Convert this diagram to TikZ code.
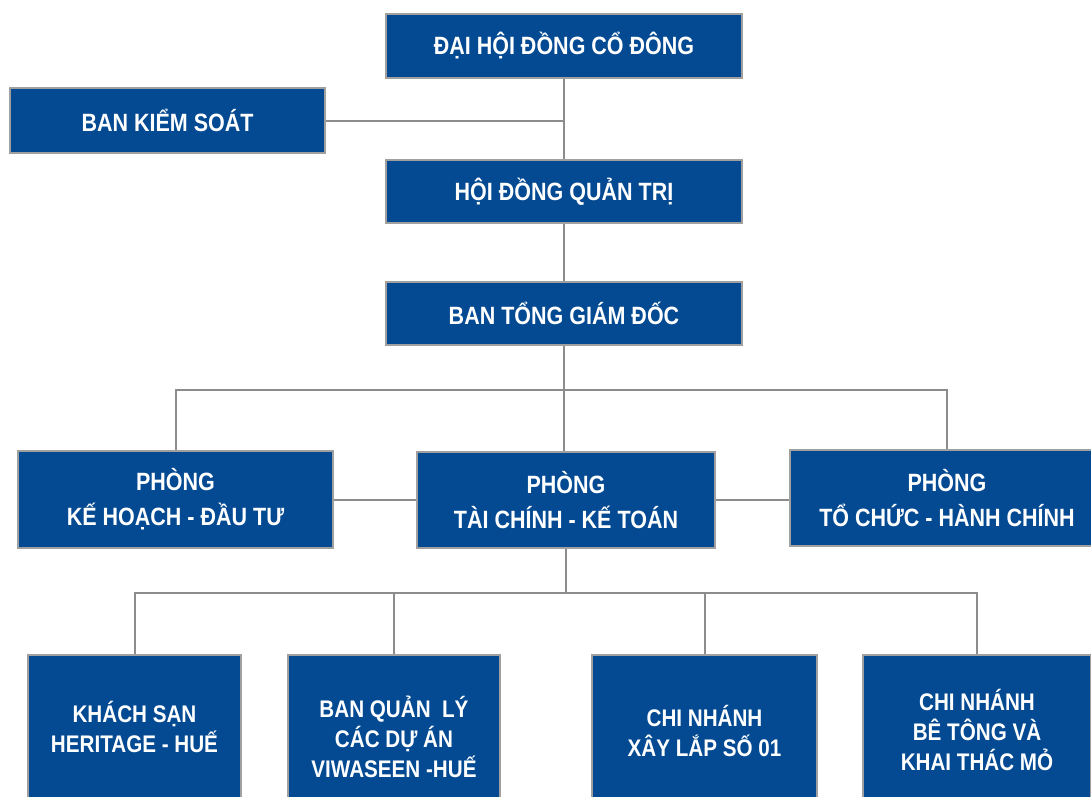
\documentclass[tikz,border=0pt]{standalone}
\usepackage{fontspec}
\newfontfamily\boxfont[FakeStretch=0.86]{Liberation Sans}
\definecolor{boxblue}{RGB}{3,74,147}
\definecolor{boxedge}{RGB}{160,160,160}
\definecolor{linegray}{RGB}{140,140,140}
\tikzset{
  orgbox/.style={rectangle, fill=boxblue, draw=boxedge, line width=2pt, text=white,
    font=\boxfont\bfseries\fontsize{25}{35}\selectfont, align=center, inner sep=0pt},
  lowbox/.style={orgbox, font=\boxfont\bfseries\fontsize{24}{30}\selectfont},
  link/.style={draw=linegray, line width=2pt}
}
\begin{document}
\begin{tikzpicture}[x=1pt,y=-1pt]
\useasboundingbox (0,0) rectangle (1091,796);
\fill[white] (0,0) rectangle (1091,796);
\clip (0,0) rectangle (1091,796);
% top chain
\node[orgbox, minimum width=356pt, minimum height=64pt] (dhd) at (564,46) {ĐẠI HỘI ĐỒNG CỔ ĐÔNG};
\node[orgbox, minimum width=315pt, minimum height=65pt] (bks) at (167.5,120.5) {BAN KIỂM SOÁT};
\node[orgbox, minimum width=356pt, minimum height=63pt] (hdqt) at (564,191.5) {HỘI ĐỒNG QUẢN TRỊ};
\node[orgbox, minimum width=356pt, minimum height=63pt] (btgd) at (564,313.5) {BAN TỔNG GIÁM ĐỐC};
% middle row
\node[orgbox, minimum width=315pt, minimum height=97pt] (pkh) at (175.5,499.5) {PHÒNG\\KẾ HOẠCH - ĐẦU TƯ};
\node[orgbox, minimum width=298pt, minimum height=96pt] (ptc) at (566,500) {PHÒNG\\TÀI CHÍNH - KẾ TOÁN};
\node[orgbox, minimum width=314pt, minimum height=96pt] (ptchc) at (947,498) {PHÒNG\\TỔ CHỨC - HÀNH CHÍNH};
% bottom row
\node[lowbox, minimum width=213pt, minimum height=144pt] (b1) at (134.5,727) {KHÁCH SẠN\\HERITAGE - HUẾ};
\node[lowbox, minimum width=212pt, minimum height=164pt] (b2) at (394,737) {BAN QUẢN\ \ LÝ\\CÁC DỰ ÁN\\VIWASEEN -HUẾ};
\node[lowbox, minimum width=225pt, minimum height=152pt] (b3) at (704.5,731) {CHI NHÁNH\\XÂY LẮP SỐ 01};
\node[lowbox, minimum width=228pt, minimum height=150pt] (b4) at (977,730) {CHI NHÁNH\\BÊ TÔNG VÀ\\KHAI THÁC MỎ};
% connectors
\draw[link] (dhd.south) -- (hdqt.north);
\draw[link] (bks.east) -- (bks.east -| dhd.south);
\draw[link] (hdqt.south) -- (btgd.north);
\draw[link] (btgd.south) -- (btgd.south |- ptc.north);
\path (btgd.south) ++(0,44) coordinate (j1);
\draw[link] (pkh.north) |- (j1) -| (ptchc.north);
\draw[link] (pkh.east) -- (pkh.east -| ptc.west);
\draw[link] (ptc.east) -- (ptc.east -| ptchc.west);
\path (ptc.south) ++(0,44) coordinate (j2);
\draw[link] (ptc.south) -- (j2);
\draw[link] (b1.north) |- (j2) -| (b4.north);
\draw[link] (b2.north) -- (b2.north |- j2);
\draw[link] (b3.north) -- (b3.north |- j2);
\end{tikzpicture}
\end{document}
